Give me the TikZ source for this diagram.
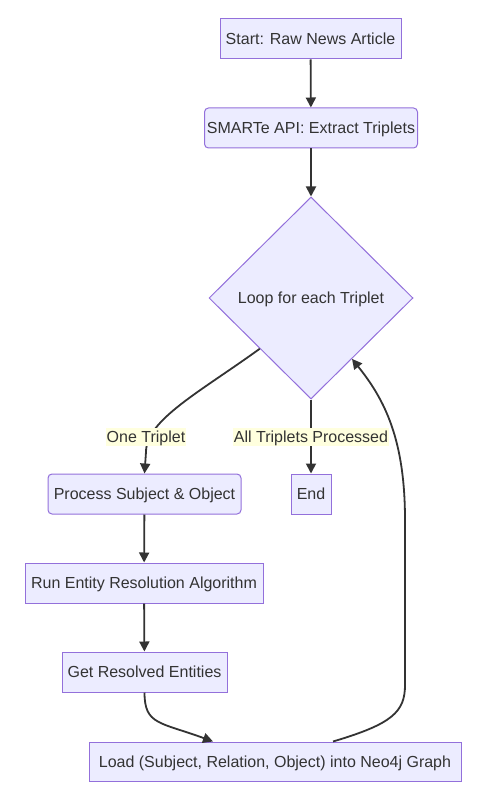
\documentclass[tikz,border=0pt]{standalone}
\usepackage{fontspec}
\setmainfont{Liberation Sans}
\usetikzlibrary{shapes.geometric,arrows.meta,calc}
\definecolor{nodefill}{HTML}{ECECFF}
\definecolor{nodeline}{HTML}{9370DB}
\definecolor{edgec}{HTML}{333333}
\definecolor{lblbg}{HTML}{FFFFDE}
\tikzset{
  txt/.style={text=edgec, font=\fontsize{16}{19}\selectfont, text height=11.5pt, text depth=0pt},
  box/.style={txt, draw=nodeline, fill=nodefill, line width=1pt, inner sep=0pt, minimum height=40pt},
  rbox/.style={box, rounded corners=4pt},
  dec/.style={diamond, txt, draw=nodeline, fill=nodefill, line width=1pt, minimum width=204pt, minimum height=202pt, inner sep=0pt, aspect=1},
  lbl/.style={txt, fill=lblbg, inner ysep=3pt, inner xsep=1pt},
  edge/.style={draw=edgec, line width=1.8pt, -{Triangle[length=10pt,width=10pt]}},
}
\begin{document}
\begin{tikzpicture}[x=1pt,y=-1pt]
\useasboundingbox (0,0) rectangle (476,802);
\node[box, minimum width=181pt] (st) at (310.5,39) {Start: Raw News Article};
\node[rbox, minimum width=213pt] (sm) at (311,128) {SMARTe API: Extract Triplets};
\node[dec] (d) at (311,298) {Loop for each Triplet};
\node[rbox, minimum width=193pt] (p) at (144.5,494) {Process Subject \& Object};
\node[box, minimum width=40pt] (e) at (311,494) {End};
\node[box, minimum width=238pt] (r) at (144,583) {Run Entity Resolution Algorithm};
\node[box, minimum width=165pt] (g) at (144.5,672) {Get Resolved Entities};
\node[box, minimum width=372pt, minimum height=39pt] (ld) at (275,761.5) {Load (Subject, Relation, Object) into Neo4j Graph};

\draw[edge] (st) -- (sm);
\draw[edge] (sm) -- (d);
\draw[edge] (d.south west) .. controls (200,392) and (146,420) .. (146,452) -- (p.north);
\draw[edge] (d) -- (e);
\draw[edge] (p) -- (r);
\draw[edge] (r) -- (g);
\draw[edge] (g.south) .. controls (144.5,725) and (160,722) .. ([xshift=-62pt]ld.north);
\draw[edge] ([xshift=58pt]ld.north) .. controls (392,724) and (405,712) .. (405,685) -- (405,520) .. controls (405,440) and (385,400) .. ($(d.south east)!0.2!(d.south)$);

\node[lbl] (l1) at (146,437) {One Triplet};
\node[lbl] (l2) at (311,437) {All Triplets Processed};
\end{tikzpicture}
\end{document}
